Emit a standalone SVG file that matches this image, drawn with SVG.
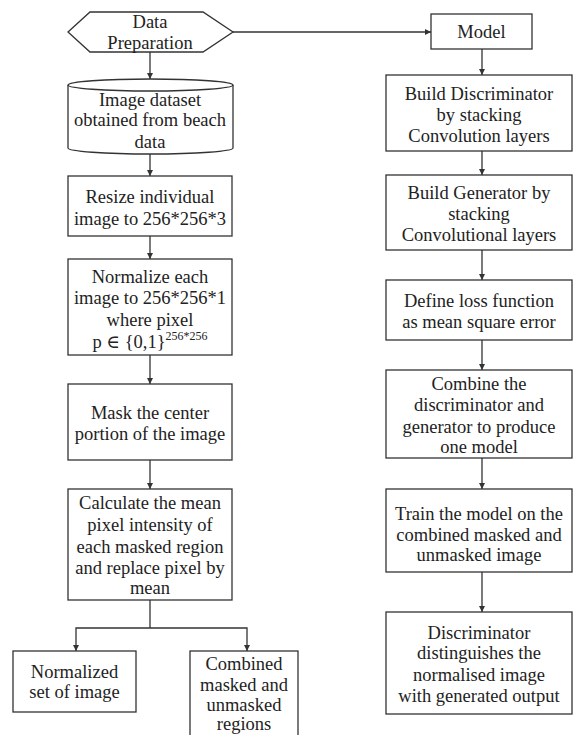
<svg xmlns="http://www.w3.org/2000/svg" width="573" height="735" viewBox="0 0 573 735">
<defs>
<marker id="ah" markerWidth="6" markerHeight="6" refX="6" refY="3" orient="auto" markerUnits="userSpaceOnUse"><path d="M0,0 L6,3 L0,6 z" fill="#333"/></marker>
<style>
.s{fill:#fff;stroke:#333;stroke-width:1.3}
.t{font-family:'Liberation Serif','DejaVu Serif',serif;font-size:18.5px;fill:#222;text-anchor:middle}
.c{fill:none;stroke:#333;stroke-width:1.3}
.a{marker-end:url(#ah)}
</style>
</defs>
<rect width="573" height="735" fill="#fff"/>
<g id="connectors">
<line class="c a" x1="150" y1="52" x2="150" y2="79"/>
<line class="c a" x1="150" y1="154" x2="150" y2="176"/>
<line class="c a" x1="150" y1="236" x2="150" y2="259"/>
<line class="c a" x1="150" y1="355" x2="150" y2="384"/>
<line class="c a" x1="150" y1="460" x2="150" y2="489"/>
<polyline class="c" points="150,600 150,628"/>
<polyline class="c a" points="150,628 76,628 76,651"/>
<polyline class="c a" points="150,628 247,628 247,651"/>
<line class="c a" x1="233" y1="32" x2="431" y2="32"/>
<line class="c a" x1="482" y1="49" x2="482" y2="75"/>
<line class="c a" x1="482" y1="151" x2="482" y2="175"/>
<line class="c a" x1="482" y1="250" x2="482" y2="280"/>
<line class="c a" x1="482" y1="340" x2="482" y2="370"/>
<line class="c a" x1="482" y1="458" x2="482" y2="489"/>
<line class="c a" x1="482" y1="572" x2="482" y2="612"/>
</g>
<g id="data-preparation">
<polygon class="s" points="68,32 90,12 203,12 233,32 203,52 90,52"/>
<text class="t" font-family="Liberation Serif, DejaVu Serif, serif" x="150" y="28">Data</text>
<text class="t" font-family="Liberation Serif, DejaVu Serif, serif" x="150" y="49">Preparation</text>
</g>
<g id="image-dataset">
<path class="s" d="M68,85 L68,148 A82.5,6 0 0 0 233,148 L233,85 A82.5,6 0 0 0 68,85 Z"/>
<path class="c" d="M68,85 A82.5,6 0 0 0 233,85"/>
<text class="t" x="150" y="106">Image dataset</text>
<text class="t" x="150" y="126">obtained from beach</text>
<text class="t" x="150" y="148">data</text>
</g>
<g id="resize">
<rect class="s" x="68" y="176" width="164" height="60"/>
<text class="t" x="150" y="203">Resize individual</text>
<text class="t" x="150" y="225">image to 256*256*3</text>
</g>
<g id="normalize">
<rect class="s" x="68" y="259" width="164" height="96"/>
<text class="t" x="150" y="283">Normalize each</text>
<text class="t" x="150" y="304">image to 256*256*1</text>
<text class="t" x="150" y="326">where pixel</text>
<text class="t" x="150" y="348">p ∈ {0,1}<tspan font-size="12" dy="-8">256*256</tspan></text>
</g>
<g id="mask">
<rect class="s" x="68" y="384" width="164" height="76"/>
<text class="t" x="150" y="419">Mask the center</text>
<text class="t" x="150" y="440">portion of the image</text>
</g>
<g id="calculate">
<rect class="s" x="68" y="489" width="164" height="111"/>
<text class="t" x="150" y="509">Calculate the mean</text>
<text class="t" x="150" y="531">pixel intensity of</text>
<text class="t" x="150" y="553">each masked region</text>
<text class="t" x="150" y="574">and replace pixel by</text>
<text class="t" x="150" y="594">mean</text>
</g>
<g id="normalized-set">
<rect class="s" x="13" y="651" width="123" height="61"/>
<text class="t" x="74.5" y="678">Normalized</text>
<text class="t" x="74.5" y="698">set of image</text>
</g>
<g id="combined-regions">
<rect class="s" x="190" y="651" width="108" height="95"/>
<text class="t" x="244" y="670">Combined</text>
<text class="t" x="244" y="691">masked and</text>
<text class="t" x="244" y="711">unmasked</text>
<text class="t" x="244" y="730">regions</text>
</g>
<g id="model">
<rect class="s" x="431" y="14" width="101" height="35"/>
<text class="t" x="481.5" y="38">Model</text>
</g>
<g id="build-discriminator">
<rect class="s" x="386" y="75" width="186" height="76"/>
<text class="t" x="479" y="100">Build Discriminator</text>
<text class="t" x="479" y="121">by stacking</text>
<text class="t" x="479" y="142">Convolution layers</text>
</g>
<g id="build-generator">
<rect class="s" x="386" y="175" width="186" height="75"/>
<text class="t" x="479" y="199">Build Generator by</text>
<text class="t" x="479" y="220">stacking</text>
<text class="t" x="479" y="241">Convolutional layers</text>
</g>
<g id="define-loss">
<rect class="s" x="386" y="280" width="186" height="60"/>
<text class="t" x="479" y="307">Define loss function</text>
<text class="t" x="479" y="328">as mean square error</text>
</g>
<g id="combine">
<rect class="s" x="386" y="370" width="186" height="88"/>
<text class="t" x="479" y="390">Combine the</text>
<text class="t" x="479" y="411">discriminator and</text>
<text class="t" x="479" y="433">generator to produce</text>
<text class="t" x="479" y="453">one model</text>
</g>
<g id="train">
<rect class="s" x="386" y="489" width="186" height="83"/>
<text class="t" x="479" y="520">Train the model on the</text>
<text class="t" x="479" y="541">combined masked and</text>
<text class="t" x="479" y="561">unmasked image</text>
</g>
<g id="discriminator-distinguishes">
<rect class="s" x="386" y="612" width="186" height="102"/>
<text class="t" x="479" y="639">Discriminator</text>
<text class="t" x="479" y="659">distinguishes the</text>
<text class="t" x="479" y="681">normalised image</text>
<text class="t" x="479" y="702">with generated output</text>
</g>
</svg>
